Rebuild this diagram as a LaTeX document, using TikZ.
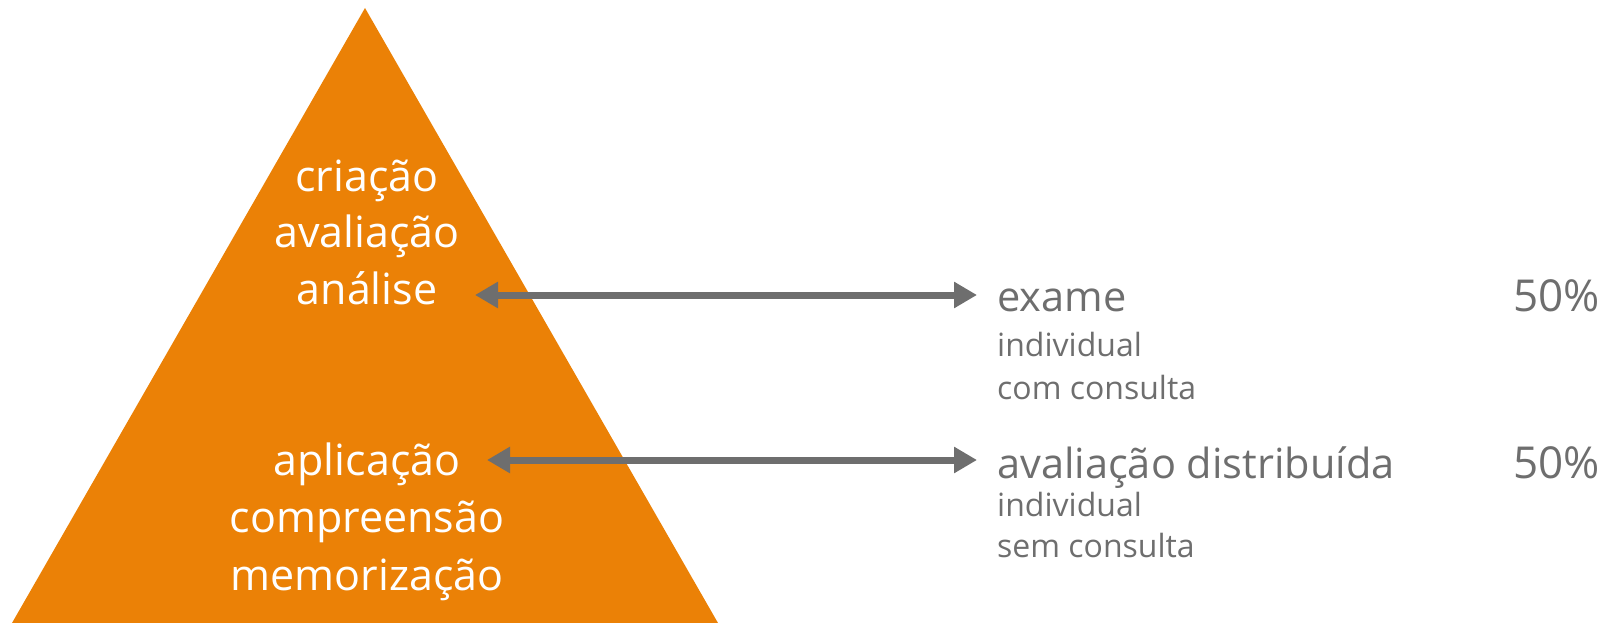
\documentclass[tikz,border=0pt]{standalone}
\usepackage{fontspec}
\setmainfont{Open Sans}
\usetikzlibrary{arrows.meta}
\definecolor{pyramid}{RGB}{235,129,6}
\definecolor{ink}{RGB}{110,110,110}
\tikzset{
  level/.style={text=white, font=\fontsize{43}{50}\selectfont, anchor=base, inner sep=0pt},
  head/.style={text=ink, font=\fontsize{41.5}{48}\selectfont, anchor=base west, inner sep=0pt},
  pct/.style={text=ink, font=\fontsize{44}{48}\selectfont, anchor=base east, inner sep=0pt},
  sub/.style={text=ink, font=\fontsize{32}{36}\selectfont, anchor=base west, inner sep=0pt},
  link/.style={draw=ink, line width=7pt, {Triangle[length=23pt,width=25pt]}-{Triangle[length=23pt,width=25pt]}}
}
\begin{document}
\begin{tikzpicture}[x=1pt,y=-1pt]
  \useasboundingbox (0,0) rectangle (1612,623);
  % pyramid
  \fill[pyramid] (365,8) -- (12,623) -- (718,623) -- cycle;
  % levels inside the pyramid
  \node[level] (cria) at (367,191) {criação};
  \node[level] (aval) at (367,247) {avaliação};
  \node[level] (anal) at (367,304) {análise};
  \node[level] (apli) at (367,475) {aplicação};
  \node[level] (comp) at (367,532) {compreensão};
  \node[level] (memo) at (367,590) {memorização};
  % assessment components
  \node[head] (exame) at (997,311) {exame};
  \node[pct] (p1) at (1600,311) {50\%};
  \node[sub] (ind1) at (997,356) {individual};
  \node[sub] (com) at (997,399) {com consulta};
  \node[head] (dist) at (997,478) {avaliação distribuída};
  \node[pct] (p2) at (1600,478) {50\%};
  \node[sub] (ind2) at (997,516) {individual};
  \node[sub] (sem) at (997,557) {sem consulta};
  % connectors
  \coordinate (a1) at (475,295);
  \coordinate (b1) at (977,295);
  \coordinate (a2) at (487,460);
  \coordinate (b2) at (977,460);
  \draw[link] (a1) -- (b1);
  \draw[link] (a2) -- (b2);
\end{tikzpicture}
\end{document}
